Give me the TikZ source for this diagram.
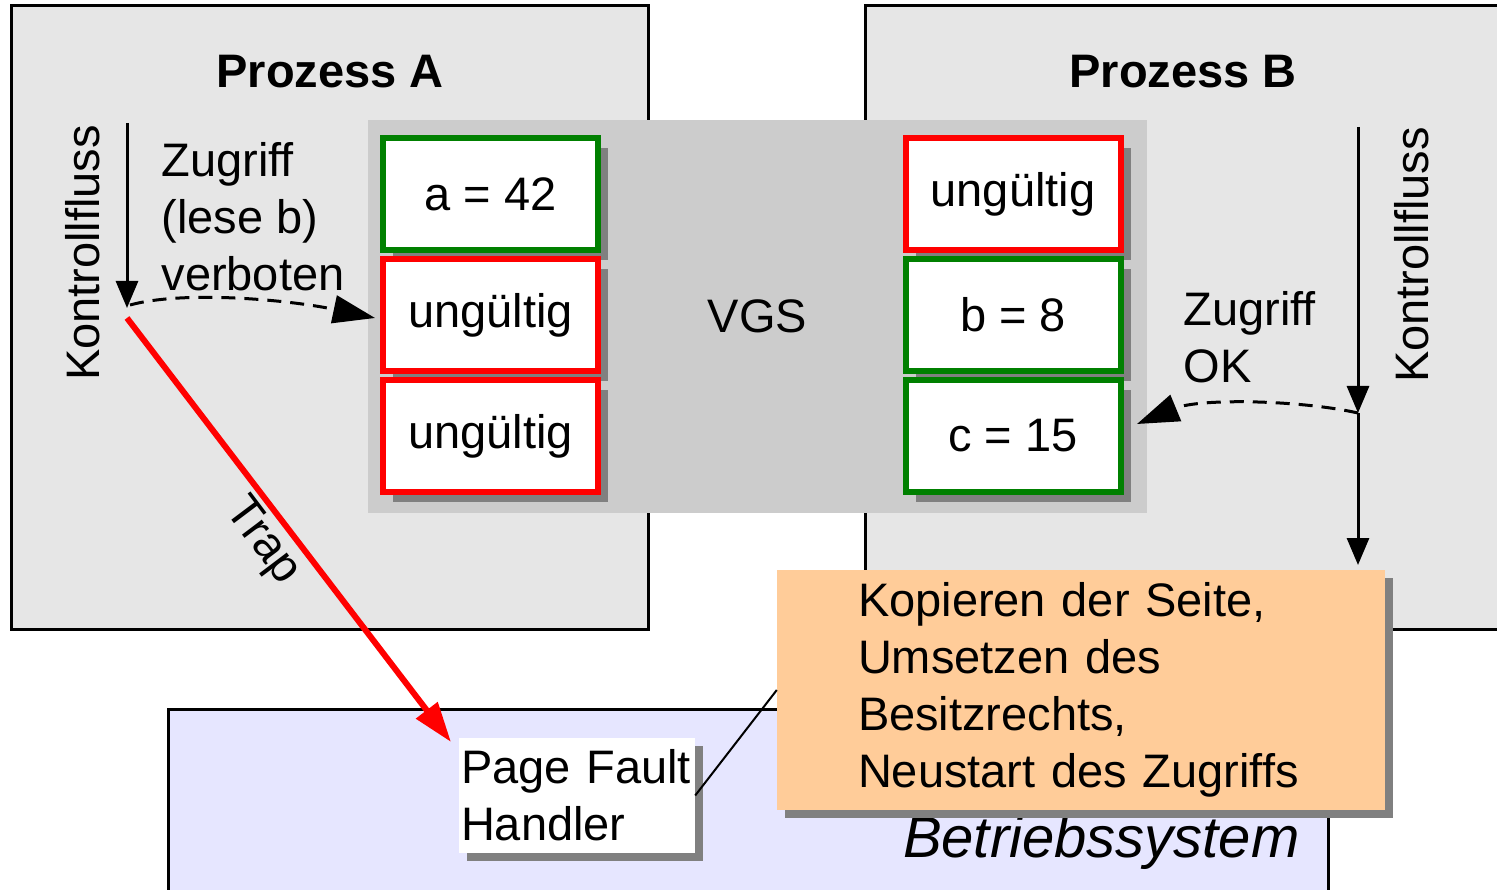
\documentclass[tikz,border=0pt]{standalone}
\usepackage{fontspec}
\setmainfont{Liberation Sans}
\usetikzlibrary{arrows.meta,shadows,calc}
\definecolor{procgray}{HTML}{E6E6E6}
\definecolor{vgsgray}{HTML}{CCCCCC}
\definecolor{shadowgray}{HTML}{808080}
\definecolor{okgreen}{HTML}{008000}
\definecolor{badred}{HTML}{FF0000}
\definecolor{noteorange}{HTML}{FFCC99}
\definecolor{oslav}{HTML}{E6E6FF}
\tikzset{
  procbox/.style={draw=black, line width=3pt, fill=procgray, rectangle, inner sep=0pt},
  osbox/.style={draw=black, line width=3pt, fill=oslav, rectangle, inner sep=0pt},
  vgsbox/.style={fill=vgsgray, rectangle, inner sep=0pt},
  pagebox/.style={rectangle, fill=white, line width=6pt, minimum width=215pt, minimum height=112pt, inner sep=0pt,
     drop shadow={shadow xshift=10pt, shadow yshift=-10pt, fill=shadowgray, opacity=1}},
  okpage/.style={pagebox, draw=okgreen},
  badpage/.style={pagebox, draw=badred},
  title/.style={font=\fontsize{47}{57}\selectfont\bfseries, anchor=base},
  flow/.style={line width=3pt, -{Triangle[length=27pt,width=22pt]}},
  dashflow/.style={line width=3pt, dash pattern=on 14pt off 9pt, -{Triangle[length=42pt,width=28pt]}},
  traparrow/.style={line width=6pt, draw=badred, -{Triangle[length=40pt,width=26pt]}},
  shadowed/.style={drop shadow={shadow xshift=8pt, shadow yshift=-8pt, fill=shadowgray, opacity=1}},
}
\begin{document}
\begin{tikzpicture}[x=1pt, y=-1pt, font=\fontsize{47}{57}\selectfont]
\useasboundingbox (0,0) rectangle (1497,890);
\clip (0,0) rectangle (1497,890);

% process boxes
\node[procbox, minimum width=637pt, minimum height=623pt] (procA) at (329.5,317.5) {};
\node[procbox, minimum width=674pt, minimum height=623pt] (procB) at (1202,317.5) {};
\node[title] (titleA) at (330,88) {Prozess A};
\node[title] (titleB) at (1183,88) {Prozess B};

% operating system
\node[osbox, minimum width=1160pt, minimum height=241pt] (os) at (748,829.5) {};

% shared virtual memory
\node[vgsbox, minimum width=779pt, minimum height=393pt] (vgs) at (757.5,316.5) {VGS};

% pages of process A
\node[okpage]  (a1) at (490.5,194) {a = 42};
\node[badpage] (a2) at (490.5,315) {ungültig};
\node[badpage] (a3) at (490.5,436) {ungültig};
% pages of process B
\node[badpage] (b1) at (1013,194) {ungültig};
\node[okpage]  (b2) at (1013,315) {b = 8};
\node[okpage]  (b3) at (1013,436) {c = 15};

% control flow A
\node[rotate=90, anchor=base] (kA) at (99,253) {Kontrollfluss};
\coordinate (lTop) at (127,123);
\coordinate (lTip) at (127,308);
\draw[flow] (lTop) -- (lTip);
\node[anchor=base west, align=left] (zA) at (158,291) {Zugriff\\(lese b)\\verboten};
\coordinate (lDashStart) at (130,305);
\coordinate (lDashEnd) at (375,318);
\draw[dashflow] (lDashStart) .. controls (185,290) and (290,300) .. (lDashEnd);

% control flow B
\node[rotate=90, anchor=base] (kB) at (1428,255) {Kontrollfluss};
\coordinate (rTop) at (1358,127);
\coordinate (rMid) at (1358,413);
\coordinate (rBot) at (1358,565);
\draw[flow] (rTop) -- (rMid);
\draw[flow] (rMid) -- (rBot);
\node[anchor=base west, align=left] (zB) at (1180,383) {Zugriff\\OK};
\coordinate (rDashEnd) at (1137,424);
\draw[dashflow] (rMid) .. controls (1300,400) and (1200,398) .. (rDashEnd);

% page fault handler
\node[rectangle, fill=white, shadowed, minimum width=236pt, minimum height=115pt,
      text width=232pt, inner xsep=2pt, inner ysep=0pt, align=left] (pfh) at (577,795.5) {Page Fault\\Handler};

% trap
\coordinate (trapStart) at (127,318);
\coordinate (trapEnd) at (451,742);
\draw[traparrow] (trapStart) -- (trapEnd);
\node[rotate=-53, inner sep=0pt] (trap) at (262,542) {Trap};

% OS label
\node[anchor=base east, font=\fontsize{58}{66}\selectfont\itshape] (oslabel) at (1303,857) {Betriebssystem};

% note
\node[rectangle, fill=noteorange, shadowed, minimum width=608pt, minimum height=240pt,
      text width=446pt, inner xsep=81pt, inner ysep=0pt, align=left] (note) at (1081,690)
      {Kopieren der Seite,\\Umsetzen des\\Besitzrechts,\\Neustart des Zugriffs};
\draw[line width=2pt] (pfh.east) -- (note.west);
\end{tikzpicture}
\end{document}
